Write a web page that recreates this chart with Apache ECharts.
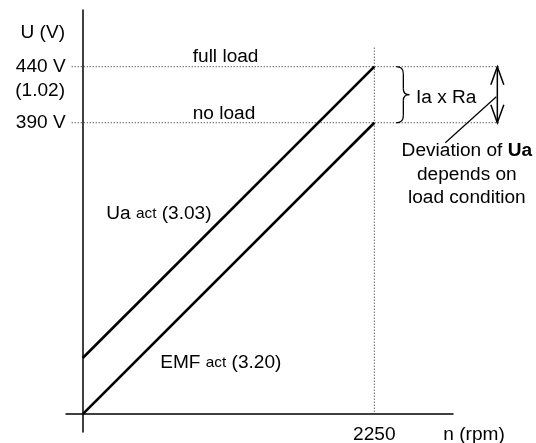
<!DOCTYPE html>
<html>
<head>
<meta charset="utf-8">
<script src="https://cdn.jsdelivr.net/npm/echarts@6/dist/echarts.min.js"></script>
<style>
html,body{margin:0;padding:0;background:#fff;}
#chart{width:536px;height:443px;}
</style>
</head>
<body>
<div id="chart"></div>
<script>
// ---- data ----
const speedRpm = [0, 2250];          // n (rpm)
const emfAct = [130, 390];           // EMF act (3.20), no load
const uaAct = [180, 440];            // Ua act (3.03), full load
const yTickValues = [390, 440];
const yTickLabels = ['390 V', '440 V'];
const xTickValues = [2250];
const xTickLabels = ['2250'];

const FF = "'Liberation Sans', Arial, Helvetica, sans-serif";
const FS = 18;
const SX = 1.06;

function txt(text, x, y, align, rich) {
  return {
    type: 'text', x: x, y: y, scaleX: SX,
    style: {
      text: text, x: 0, y: 0, align: align, verticalAlign: 'middle',
      fontSize: FS, fontFamily: FF, fill: '#000', rich: rich
    }
  };
}

function renderItem(params, api) {
  const xEnd = speedRpm[speedRpm.length - 1];
  const top = api.coord([xEnd, uaAct[uaAct.length - 1]]);
  const bot = api.coord([xEnd, emfAct[emfAct.length - 1]]);
  const org = api.coord([speedRpm[0], emfAct[0]]);
  const uaStart = api.coord([speedRpm[0], uaAct[0]]);
  const ax = org[0];
  const ym = (top[1] + bot[1]) / 2;
  const dotted = { stroke: '#222', lineWidth: 1, lineDash: [1, 2] };
  const solid = { stroke: '#000', lineWidth: 1.3, fill: null };
  const ch = [];
  // horizontal dotted reference lines
  yTickValues.forEach(function (v) {
    const y = api.coord([xEnd, v])[1];
    ch.push({ type: 'line', shape: { x1: ax - 11, y1: y, x2: top[0] + 126, y2: y }, style: dotted });
  });
  // vertical dotted line at rated speed
  ch.push({ type: 'line', shape: { x1: top[0], y1: top[1] - 19, x2: top[0], y2: org[1] }, style: dotted });
  // brace
  const bx = top[0] + 22, sx = top[0] + 29, tx = top[0] + 35;
  const y1 = top[1], y2 = bot[1];
  ch.push({ type: 'bezierCurve', shape: { x1: bx, y1: y1, cpx1: sx, cpy1: y1, x2: sx, y2: y1 + 7 }, style: solid });
  ch.push({ type: 'line', shape: { x1: sx, y1: y1 + 7, x2: sx, y2: ym - 6 }, style: solid });
  ch.push({ type: 'bezierCurve', shape: { x1: sx, y1: ym - 6, cpx1: sx, cpy1: ym, x2: tx, y2: ym }, style: solid });
  ch.push({ type: 'bezierCurve', shape: { x1: tx, y1: ym, cpx1: sx, cpy1: ym, x2: sx, y2: ym + 6 }, style: solid });
  ch.push({ type: 'line', shape: { x1: sx, y1: ym + 6, x2: sx, y2: y2 - 7 }, style: solid });
  ch.push({ type: 'bezierCurve', shape: { x1: sx, y1: y2 - 7, cpx1: sx, cpy1: y2, x2: bx, y2: y2 }, style: solid });
  // double arrow
  const axr = top[0] + 123;
  const arrowStyle = { stroke: '#000', lineWidth: 1.5, fill: null };
  ch.push({ type: 'line', shape: { x1: axr, y1: y1, x2: axr, y2: y2 }, style: arrowStyle });
  ch.push({ type: 'polyline', shape: { points: [[axr - 6.5, y1 + 18], [axr, y1], [axr + 6.5, y1 + 18]] }, style: arrowStyle });
  ch.push({ type: 'polyline', shape: { points: [[axr - 6.5, y2 - 18], [axr, y2], [axr + 6.5, y2 - 18]] }, style: arrowStyle });
  // leader line
  ch.push({ type: 'line', shape: { x1: top[0] + 122, x2: top[0] + 71, y1: ym + 2, y2: y2 + 20 }, style: { stroke: '#000', lineWidth: 1.2 } });
  // axis texts
  ch.push(txt('U (V)', ax - 17.7, top[1] - 33.5, 'right'));
  yTickValues.forEach(function (v, i) {
    ch.push(txt(yTickLabels[i], ax - 17, api.coord([xEnd, v])[1], 'right'));
  });
  ch.push(txt('(1.02)', ax - 17.7, top[1] + 24.5, 'right'));
  xTickValues.forEach(function (v, i) {
    ch.push(txt(xTickLabels[i], api.coord([v, emfAct[0]])[0], org[1] + 21, 'center'));
  });
  ch.push(txt('n (rpm)', top[0] + 69, org[1] + 21, 'left'));
  // annotations
  ch.push(txt('full load', ax + 110, top[1] - 10, 'left'));
  ch.push(txt('no load', ax + 110, bot[1] - 9, 'left'));
  ch.push(txt('Ia x Ra', top[0] + 41.7, ym + 3, 'left'));
  ch.push(txt('Deviation of {b|Ua}', top[0] + 92.5, y2 + 28.5, 'center', {
    b: { fontWeight: 'bold', fontSize: FS, fontFamily: FF, fill: '#000' }
  }));
  ch.push(txt('depends on', top[0] + 92.5, y2 + 52, 'center'));
  ch.push(txt('load condition', top[0] + 92.5, y2 + 75, 'center'));
  const sub = {
    m: { fontSize: FS, fontFamily: FF, fill: '#000', verticalAlign: 'bottom', lineHeight: 20 },
    s: { fontSize: 14.5, fontFamily: FF, fill: '#000', verticalAlign: 'bottom', lineHeight: 20, padding: [0, 0, 2, 0] }
  };
  ch.push(txt('{m|Ua }{s|act}{m| (3.03)}', ax + 23.5, uaStart[1] - 144.8, 'left', sub));
  ch.push(txt('{m|EMF }{s|act}{m| (3.20)}', ax + 77.5, org[1] - 52, 'left', sub));
  return { type: 'group', children: ch };
}

const chart = echarts.init(document.getElementById('chart'), null, { renderer: 'canvas' });
chart.setOption({
  animation: false,
  backgroundColor: '#fff',
  grid: { left: 66, right: 83, top: 10, bottom: 11, containLabel: false, outerBoundsMode: 'none' },
  xAxis: {
    type: 'value', min: -129, max: 2857, position: 'bottom', offset: -18,
    axisLine: { show: true, onZero: false, lineStyle: { color: '#000', width: 1.5 } },
    axisTick: { show: false }, axisLabel: { show: false }, splitLine: { show: false }
  },
  yAxis: {
    type: 'value', min: 114, max: 490.6,
    axisLine: { show: true, onZero: true, lineStyle: { color: '#000', width: 1.5 } },
    axisTick: { show: false }, axisLabel: { show: false }, splitLine: { show: false }
  },
  series: [
    {
      name: 'Ua act (3.03)', type: 'line', symbol: 'none',
      data: speedRpm.map(function (x, i) { return [x, uaAct[i]]; }),
      lineStyle: { color: '#000', width: 2.6 }, z: 3
    },
    {
      name: 'EMF act (3.20)', type: 'line', symbol: 'none',
      data: speedRpm.map(function (x, i) { return [x, emfAct[i]]; }),
      lineStyle: { color: '#000', width: 2.6 }, z: 3
    },
    {
      type: 'custom', renderItem: renderItem, data: [0], clip: false, silent: true, z: 2
    }
  ]
});
</script>
</body>
</html>
